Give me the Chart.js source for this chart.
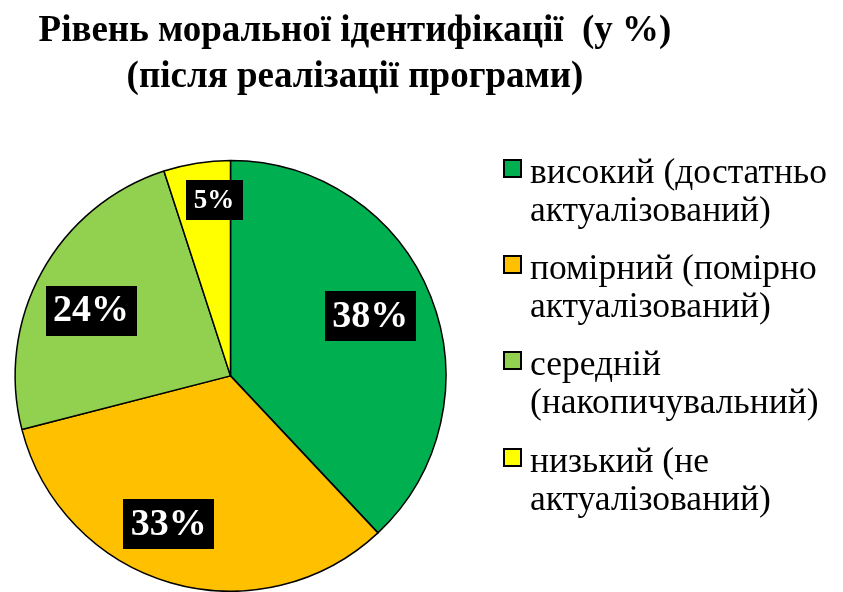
<!DOCTYPE html>
<html>
<head>
<meta charset="utf-8">
<script src="https://cdn.jsdelivr.net/npm/chart.js@4/dist/chart.umd.min.js"></script>
<style>
  html, body { margin: 0; padding: 0; background: #ffffff; }
  canvas { display: block; }
</style>
</head>
<body>
<canvas id="c" width="843" height="592"></canvas>
<script>
// ---- data ----
const titleLines = ['Рівень моральної ідентифікації  (у %)', '(після реалізації програми)'];
const categories = [
  ['високий (достатньо', 'актуалізований)'],
  ['помірний (помірно', 'актуалізований)'],
  ['середній', '(накопичувальний)'],
  ['низький (не', 'актуалізований)']
];
const values = [38, 33, 24, 5];
const colors = ['#00B050', '#FFC000', '#92D050', '#FFFF00'];

// ---- styling helpers (label nudges, px) ----
const labelNudge = [[-4.5, -2.5], [-18.5, -0.5], [-3.5, 9.5], [11.5, 0.5]];
const SERIF = '"Liberation Serif", "Times New Roman", serif';

const titlePlugin = {
  id: 'customTitle',
  afterDraw(chart) {
    const ctx = chart.ctx;
    ctx.save();
    ctx.fillStyle = '#000';
    ctx.font = 'bold 37px ' + SERIF;
    ctx.textAlign = 'center';
    ctx.textBaseline = 'alphabetic';
    ctx.fillText(titleLines[0], 355, 41);
    ctx.fillText(titleLines[1], 355, 87);
    ctx.restore();
  }
};

const legendPlugin = {
  id: 'customLegend',
  afterDraw(chart) {
    const ctx = chart.ctx;
    const ds = chart.data.datasets[0];
    ctx.save();
    ctx.font = '35.5px ' + SERIF;
    ctx.textAlign = 'left';
    ctx.textBaseline = 'alphabetic';
    const baselines = [183, 279, 375, 472];
    chart.data.labels.forEach((lines, i) => {
      const b = baselines[i];
      ctx.fillStyle = ds.backgroundColor[i];
      ctx.fillRect(504, b - 23, 17, 17);
      ctx.strokeStyle = '#000';
      ctx.lineWidth = 2;
      ctx.strokeRect(504, b - 23, 17, 17);
      ctx.fillStyle = '#000';
      lines.forEach((t, j) => ctx.fillText(t, 530, b + j * 38));
    });
    ctx.restore();
  }
};

const labelPlugin = {
  id: 'boxLabels',
  afterDatasetsDraw(chart) {
    const ctx = chart.ctx;
    const meta = chart.getDatasetMeta(0);
    const data = chart.data.datasets[0].data;
    ctx.save();
    meta.data.forEach((arc, i) => {
      const v = data[i];
      const p = arc.getProps(['x', 'y', 'startAngle', 'endAngle', 'outerRadius'], true);
      const mid = (p.startAngle + p.endAngle) / 2;
      const small = v < 10;
      const f = small ? 0.83 : 0.72;
      const cx = p.x + Math.cos(mid) * p.outerRadius * f + labelNudge[i][0];
      const cy = p.y + Math.sin(mid) * p.outerRadius * f + labelNudge[i][1];
      const size = small ? 27 : 38;
      ctx.font = 'bold ' + size + 'px ' + SERIF;
      const txt = v + '%';
      const w = ctx.measureText(txt).width;
      const bw = w + (small ? 16 : 15);
      const bh = small ? 40 : 50;
      ctx.fillStyle = '#000';
      ctx.fillRect(Math.round(cx - bw / 2), Math.round(cy - bh / 2), Math.round(bw), bh);
      ctx.fillStyle = '#fff';
      ctx.textAlign = 'center';
      ctx.textBaseline = 'middle';
      ctx.fillText(txt, cx, cy + 1);
    });
    ctx.restore();
  }
};

new Chart(document.getElementById('c'), {
  type: 'pie',
  data: {
    labels: categories,
    datasets: [{
      data: values,
      backgroundColor: colors,
      borderColor: '#000',
      borderWidth: 1.5
    }]
  },
  options: {
    responsive: false,
    animation: false,
    layout: { padding: { left: 13.75, right: 395.75, top: 159.75, bottom: -1.25 } },
    plugins: {
      legend: { display: false },
      title: { display: false },
      tooltip: { enabled: false }
    }
  },
  plugins: [labelPlugin, titlePlugin, legendPlugin]
});
</script>
</body>
</html>
